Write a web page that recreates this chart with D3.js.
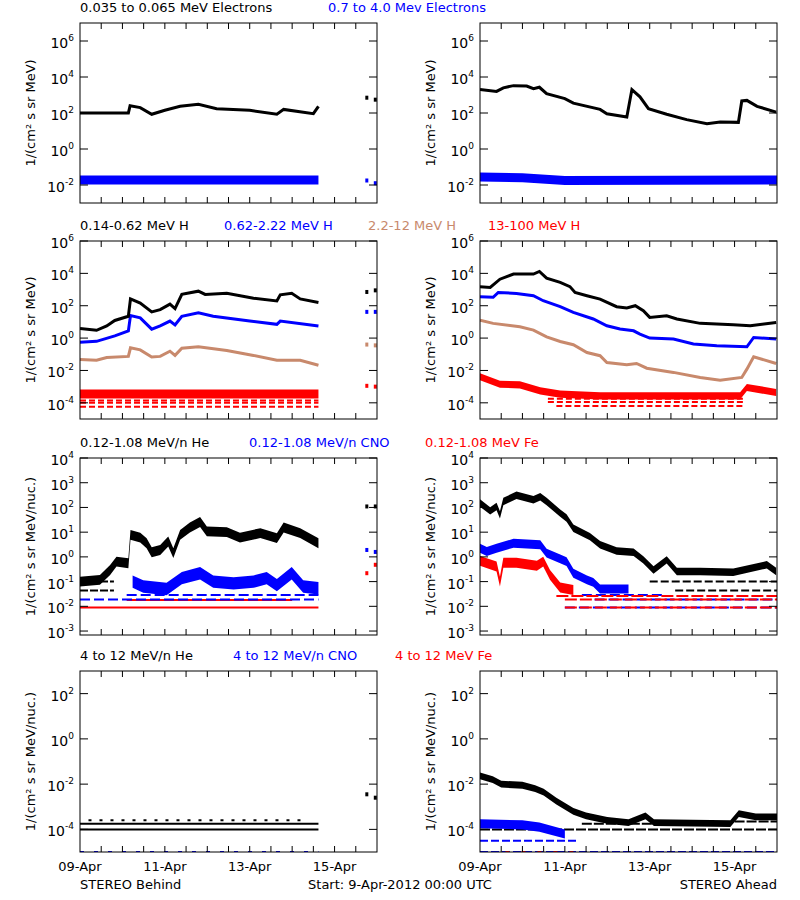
<!DOCTYPE html>
<html>
<head>
<meta charset="utf-8">
<script src="https://cdn.jsdelivr.net/npm/d3@7"></script>
<style>
  body { margin: 0; background: #fff; }
  text { font-family: "DejaVu Sans", sans-serif; }
</style>
</head>
<body>
<svg width="800" height="900"></svg>
<script>
// all flux values are log10 of 1/(cm2 s sr MeV), times are days after 9-Apr-2012 00:00 UTC

// row 1 : electrons
const b1Black = [[0,2.0],[1.14,2.0],[1.18,2.4],[1.42,2.3],[1.69,1.93],[2.0,2.15],[2.36,2.37],[2.79,2.48],[3.22,2.24],[4.0,2.15],[4.64,1.93],[4.8,2.2],[5.5,1.96],[5.62,2.37]];
const b1BlackIso = [[6.76,2.85],[6.96,2.74]];
const b1Blue = [[0,-1.72],[5.62,-1.72]];
const b1BlueIso = [[6.76,-1.75],[6.96,-1.9]];
const a1Black = [[0,3.3],[0.39,3.2],[0.55,3.4],[0.79,3.52],[1.1,3.5],[1.26,3.35],[1.4,3.43],[1.57,3.07],[2.0,2.8],[2.2,2.55],[2.83,2.2],[2.99,1.96],[3.46,1.78],[3.58,3.3],[3.77,2.9],[3.97,2.24],[4.4,1.93],[4.87,1.63],[5.35,1.41],[5.66,1.5],[6.09,1.48],[6.17,2.67],[6.29,2.7],[6.53,2.37],[6.98,2.05]];
const a1Blue = [[0,-1.55],[1.0,-1.6],[2.0,-1.75],[7.0,-1.72]];

// row 2 : protons
const b2Black = [[0,0.6],[0.39,0.48],[0.63,0.75],[0.82,1.09],[1.14,1.35],[1.19,2.42],[1.42,2.16],[1.69,1.62],[1.89,1.76],[2.12,2.1],[2.24,1.82],[2.4,2.7],[2.79,2.9],[2.95,2.7],[3.46,2.77],[4.09,2.46],[4.64,2.3],[4.72,2.67],[4.99,2.77],[5.19,2.42],[5.62,2.2]];
const b2Blue = [[0,-0.26],[0.39,-0.2],[0.82,0.14],[1.14,0.44],[1.19,1.39],[1.42,1.25],[1.69,0.55],[1.89,0.75],[2.12,1.05],[2.24,0.81],[2.4,1.35],[2.79,1.56],[3.14,1.35],[4.0,1.05],[4.64,0.85],[4.72,1.05],[5.62,0.75]];
const b2Tan = [[0,-1.33],[0.39,-1.37],[0.63,-1.2],[1.14,-1.13],[1.19,-0.6],[1.42,-0.73],[1.69,-1.17],[1.89,-1.13],[2.12,-0.81],[2.24,-1.07],[2.4,-0.63],[2.79,-0.53],[3.46,-0.77],[4.09,-1.07],[4.64,-1.37],[5.19,-1.37],[5.62,-1.68]];
const b2Red = [[0,-3.45],[5.62,-3.45]];
const b2BlackIso = [[6.76,2.85],[6.96,2.95]];
const b2BlueIso = [[6.76,1.62],[6.96,1.62]];
const b2TanIso = [[6.76,-0.4],[6.96,-0.45]];
const b2RedIso = [[6.76,-2.95],[6.96,-3.0]];
const a2Black = [[0,3.18],[0.24,3.13],[0.47,3.64],[0.79,3.96],[1.26,3.96],[1.4,4.12],[1.57,3.71],[1.89,3.44],[2.12,3.18],[2.24,2.82],[2.52,2.62],[2.83,2.41],[3.22,1.94],[3.46,1.86],[3.66,2.0],[3.85,1.69],[4.0,1.28],[4.4,1.38],[4.64,1.18],[5.19,0.91],[5.97,0.82],[6.37,0.76],[6.98,0.97]];
const a2Blue = [[0,2.56],[0.31,2.52],[0.43,2.82],[0.86,2.76],[1.26,2.62],[1.49,2.31],[1.89,1.94],[2.2,1.59],[2.67,1.18],[2.99,0.76],[3.3,0.56],[3.62,0.45],[3.77,0.25],[4.0,0],[4.56,-0.06],[5.03,-0.37],[5.58,-0.47],[6.29,-0.54],[6.45,0.04],[6.98,-0.06]];
const a2Tan = [[0,1.11],[0.31,0.91],[0.94,0.7],[1.26,0.49],[1.57,0.08],[1.89,-0.21],[2.2,-0.41],[2.52,-0.89],[2.83,-1.09],[2.99,-1.51],[3.46,-1.65],[3.69,-1.57],[3.93,-1.86],[4.56,-2.12],[5.19,-2.43],[5.66,-2.6],[6.17,-2.43],[6.29,-1.92],[6.45,-1.15],[6.98,-1.57]];
const a2Red = [[0,-2.39],[0.47,-2.85],[0.94,-2.89],[1.42,-3.26],[1.89,-3.46],[2.83,-3.57],[6.13,-3.57],[6.29,-3.05],[6.98,-3.36]];

// row 3 : low energy ions
const b3Black = [[0,-1.0],[0.47,-0.93],[0.71,-0.53],[0.86,-0.19],[1.14,-0.26],[1.19,0.89],[1.42,0.78],[1.57,0.55],[1.69,0.19],[1.89,0.28],[2.08,0.62],[2.2,0.15],[2.36,0.89],[2.59,1.19],[2.83,1.41],[2.99,1.03],[3.46,1.0],[3.77,0.78],[4.25,0.96],[4.64,0.76],[4.8,1.19],[5.19,0.96],[5.62,0.55]];
const b3Blue = [[1.24,-1.0],[1.49,-1.2],[2.04,-1.3],[2.4,-0.86],[2.83,-0.66],[3.14,-1.0],[3.62,-1.07],[4.09,-1.0],[4.4,-0.86],[4.64,-1.14],[4.99,-0.66],[5.26,-1.2],[5.62,-1.27]];
const b3BlackIso = [[6.76,2.04],[6.96,2.04]];
const b3BlueIso = [[6.76,0.28],[6.96,0.2]];
const b3RedIso = [[6.76,-0.66],[6.96,-0.32]];
const a3Black = [[0,2.18],[0.24,1.86],[0.39,2.04],[0.47,1.7],[0.55,2.24],[0.86,2.49],[1.26,2.31],[1.42,2.43],[1.57,2.24],[1.89,1.77],[2.04,1.57],[2.2,1.16],[2.59,0.82],[2.83,0.49],[3.22,0.24],[3.62,0.19],[3.85,-0.12],[4.09,-0.53],[4.4,-0.12],[4.64,-0.59],[5.19,-0.59],[5.97,-0.62],[6.76,-0.32],[6.98,-0.59]];
const a3Blue = [[0,0.35],[0.16,0.22],[0.39,0.35],[0.79,0.55],[1.42,0.49],[1.57,0.15],[1.89,-0.08],[2.04,-0.19],[2.2,-0.66],[2.52,-0.93],[2.67,-1.03],[2.83,-1.3],[3.5,-1.3]];
const a3Red = [[0,-0.16],[0.39,-0.39],[0.47,-1.0],[0.55,-0.24],[0.86,-0.24],[1.34,-0.36],[1.49,-0.19],[1.65,-0.73],[1.89,-1.24],[2.2,-1.34]];

// row 4 : high energy ions
const b4BlackIso = [[6.76,-2.45],[6.96,-2.6]];
const a4Black = [[0,-1.64],[0.3,-1.8],[0.5,-2.0],[1.0,-2.05],[1.3,-2.2],[1.5,-2.35],[1.8,-2.75],[2.2,-3.2],[2.5,-3.4],[3.0,-3.6],[3.5,-3.7],[3.9,-3.4],[4.1,-3.7],[5.9,-3.75],[6.1,-3.3],[6.5,-3.45],[7.0,-3.45]];
const a4Blue = [[0,-3.75],[1.0,-3.8],[1.4,-3.9],[2.0,-4.2]];

// flat count-floor levels: [start, end, level]
const b3Floors = { black: [[0,0.8,-1.0],[0,0.8,-1.36]], blue: [[1.1,5.62,-1.54],[0,5.62,-1.72]], red: [[1.1,5.0,-1.74],[0,5.62,-2.05]] };
const a3Floors = { black: [[4.0,7,-1.0],[4.6,7,-1.36]], blue: [[2.4,4.3,-1.54],[2.7,7,-1.72],[2.0,7,-2.05]], red: [[1.8,7,-1.58],[2.0,7,-1.72],[2.0,7,-2.05]] };
const b2RedFloors = [[0,5.62,-3.85],[0,5.62,-4.0],[0,5.62,-4.25]];
const a2RedFloors = [[1.6,6.2,-3.75],[1.6,6.2,-3.95],[1.8,6.2,-4.2]];
const b4Floors = { black: [[0,5.62,-4.0],[0,5.62,-3.75],[0.2,5.3,-3.6]], blue: [[0,5.62,-5.0]] };
const a4Floors = { black: [[0,7,-4.0],[2.4,5.5,-3.75],[6.0,7,-3.65]], blue: [[0,7,-5.0],[0,2.3,-4.5]], red: [[0.6,2.2,-5.0]] };

const titles = [
  [['0.035 to 0.065 MeV Electrons', 'black', 80], ['0.7 to 4.0 Mev Electrons', 'blue', 328]],
  [['0.14-0.62 MeV H', 'black', 80], ['0.62-2.22 MeV H', 'blue', 224], ['2.2-12 MeV H', 'tan', 368], ['13-100 MeV H', 'red', 488]],
  [['0.12-1.08 MeV/n He', 'black', 80], ['0.12-1.08 MeV/n CNO', 'blue', 249], ['0.12-1.08 MeV Fe', 'red', 425]],
  [['4 to 12 MeV/n He', 'black', 80], ['4 to 12 MeV/n CNO', 'blue', 233], ['4 to 12 MeV Fe', 'red', 395]]
];
const yLabels = ['1/(cm² s sr MeV)', '1/(cm² s sr MeV)', '1/(cm² s sr MeV/nuc.)', '1/(cm² s sr MeV/nuc.)'];

const colors = { black: '#000', blue: '#0000ff', tan: '#c8896c', red: '#ff0000' };
const svg = d3.select('svg');
const t0 = Date.UTC(2012, 3, 9);
const toDate = d => new Date(t0 + d * 864e5);

const cols = [80, 480];
const pw = 297;
const rows = [
  { y0: 23, y1: 203, lo: -3, hi: 7, ticks: [-2, 0, 2, 4, 6] },
  { y0: 241, y1: 419, lo: -5, hi: 6, ticks: [-4, -2, 0, 2, 4, 6] },
  { y0: 458, y1: 635, lo: -3.16, hi: 4, ticks: [-3, -2, -1, 0, 1, 2, 3, 4] },
  { y0: 671, y1: 852, lo: -5, hi: 3, ticks: [-4, -2, 0, 2] }
];

function panel(ri, ci, draw) {
  const r = rows[ri];
  const x = d3.scaleUtc().domain([toDate(0), toDate(7)]).range([cols[ci], cols[ci] + pw]);
  const y = d3.scaleLog().domain([10 ** r.lo, 10 ** r.hi]).range([r.y1, r.y0]);
  const id = 'clip' + ri + ci;
  svg.append('clipPath').attr('id', id).append('rect')
    .attr('x', cols[ci]).attr('y', r.y0).attr('width', pw).attr('height', r.y1 - r.y0);
  const g = svg.append('g').attr('clip-path', `url(#${id})`);
  const px = d => x(toDate(d[0]));
  const py = v => y(10 ** v);

  const h = {
    line: (pts, c, w = 3) => g.append('path').datum(pts)
      .attr('d', d3.line().x(px).y(d => py(d[1])))
      .attr('fill', 'none').attr('stroke', colors[c]).attr('stroke-width', w),
    band: (pts, c, s) => g.append('path').datum(pts)
      .attr('d', d3.area().x(px).y0(d => py(d[1] - s)).y1(d => py(d[1] + s)))
      .attr('fill', colors[c]),
    iso: (pts, c) => g.selectAll(null).data(pts).enter().append('rect')
      .attr('x', d => px(d) - 1.5).attr('y', d => py(d[1]) - 2).attr('width', 3).attr('height', 4)
      .attr('fill', colors[c]),
    floors: (lv, c, dash) => g.selectAll(null).data(lv).enter().append('line')
      .attr('x1', d => x(toDate(d[0]))).attr('x2', d => x(toDate(d[1])))
      .attr('y1', d => py(d[2])).attr('y2', d => py(d[2]))
      .attr('stroke', colors[c]).attr('stroke-width', 2)
      .attr('stroke-dasharray', dash || null)
  };
  draw(h);

  // frame and ticks
  const a = svg.append('g');
  a.append('rect').attr('x', cols[ci]).attr('y', r.y0).attr('width', pw).attr('height', r.y1 - r.y0)
    .attr('fill', 'none').attr('stroke', '#000').attr('stroke-width', 1);
  const xt = d3.utcHour.every(12).range(toDate(0), toDate(7.01)).slice(1, -1);
  xt.forEach(t => {
    a.append('line').attr('x1', x(t)).attr('x2', x(t)).attr('y1', r.y1).attr('y2', r.y1 - 6).attr('stroke', '#000');
    a.append('line').attr('x1', x(t)).attr('x2', x(t)).attr('y1', r.y0).attr('y2', r.y0 + 6).attr('stroke', '#000');
  });
  r.ticks.forEach(e => {
    const yy = y(10 ** e);
    a.append('line').attr('x1', cols[ci]).attr('x2', cols[ci] + 8).attr('y1', yy).attr('y2', yy).attr('stroke', '#000');
    a.append('line').attr('x1', cols[ci] + pw).attr('x2', cols[ci] + pw - 8).attr('y1', yy).attr('y2', yy).attr('stroke', '#000');
    const tx = a.append('text').attr('x', cols[ci] - 6).attr('y', yy + 7).attr('text-anchor', 'end')
      .attr('font-size', 14);
    tx.append('tspan').text('10');
    tx.append('tspan').attr('dy', -7).attr('font-size', 9).text(e);
  });
  a.append('text')
    .attr('transform', `translate(${cols[ci] - 45},${(r.y0 + r.y1) / 2}) rotate(-90)`)
    .attr('text-anchor', 'middle').attr('font-size', 13).text(yLabels[ri]);

  if (ri === 3) {
    xt.filter(t => t.getUTCHours() === 0 && ((t - t0) / 864e5) % 2 === 0).concat([toDate(0)]).forEach(t => {
      a.append('text').attr('x', x(t)).attr('y', 871).attr('text-anchor', 'middle')
        .attr('font-size', 13).text(d3.utcFormat('%d-%b')(t));
    });
  }
}

// titles
titles.forEach((row, ri) => row.forEach(([txt, c, x]) => {
  svg.append('text').attr('x', x).attr('y', rows[ri].y0 - 11).attr('font-size', 13)
    .attr('fill', colors[c]).text(txt);
}));

panel(0, 0, h => { h.band(b1Blue, 'blue', 0.25); h.line(b1Black, 'black'); h.iso(b1BlackIso, 'black'); h.iso(b1BlueIso, 'blue'); });
panel(0, 1, h => { h.band(a1Blue, 'blue', 0.25); h.line(a1Black, 'black'); });

panel(1, 0, h => {
  h.floors(b2RedFloors, 'red', '6,3'); h.band(b2Red, 'red', 0.28);
  h.line(b2Tan, 'tan'); h.line(b2Blue, 'blue'); h.line(b2Black, 'black');
  h.iso(b2BlackIso, 'black'); h.iso(b2BlueIso, 'blue'); h.iso(b2TanIso, 'tan'); h.iso(b2RedIso, 'red');
});
panel(1, 1, h => {
  h.floors(a2RedFloors, 'red', '6,3'); h.band(a2Red, 'red', 0.22);
  h.line(a2Tan, 'tan'); h.line(a2Blue, 'blue'); h.line(a2Black, 'black');
});

panel(2, 0, h => {
  h.floors(b3Floors.black, 'black', '8,2'); h.floors(b3Floors.red, 'red'); h.floors(b3Floors.blue, 'blue', '10,4');
  h.band(b3Blue, 'blue', 0.25); h.band(b3Black, 'black', 0.2);
  h.iso(b3BlackIso, 'black'); h.iso(b3BlueIso, 'blue'); h.iso(b3RedIso, 'red');
});
panel(2, 1, h => {
  h.floors(a3Floors.black, 'black', '8,3'); h.floors(a3Floors.blue, 'blue', '10,4'); h.floors(a3Floors.red, 'red', '12,3');
  h.band(a3Red, 'red', 0.2); h.band(a3Blue, 'blue', 0.18); h.band(a3Black, 'black', 0.15);
});

panel(3, 0, h => {
  h.floors(b4Floors.black.slice(0, 2), 'black'); h.floors(b4Floors.black.slice(2), 'black', '3,8');
  h.floors(b4Floors.blue, 'blue', '4,10'); h.iso(b4BlackIso, 'black');
});
panel(3, 1, h => {
  h.floors(a4Floors.black, 'black', '10,2'); h.floors(a4Floors.blue, 'blue', '8,3'); h.floors(a4Floors.red, 'red', '4,12');
  h.band(a4Blue, 'blue', 0.2); h.band(a4Black, 'black', 0.15);
});

// footer
svg.append('text').attr('x', 80).attr('y', 889).attr('font-size', 13).text('STEREO Behind');
svg.append('text').attr('x', 400).attr('y', 889).attr('text-anchor', 'middle').attr('font-size', 13).text('Start:  9-Apr-2012 00:00 UTC');
svg.append('text').attr('x', 777).attr('y', 889).attr('text-anchor', 'end').attr('font-size', 13).text('STEREO Ahead');
</script>
</body>
</html>
